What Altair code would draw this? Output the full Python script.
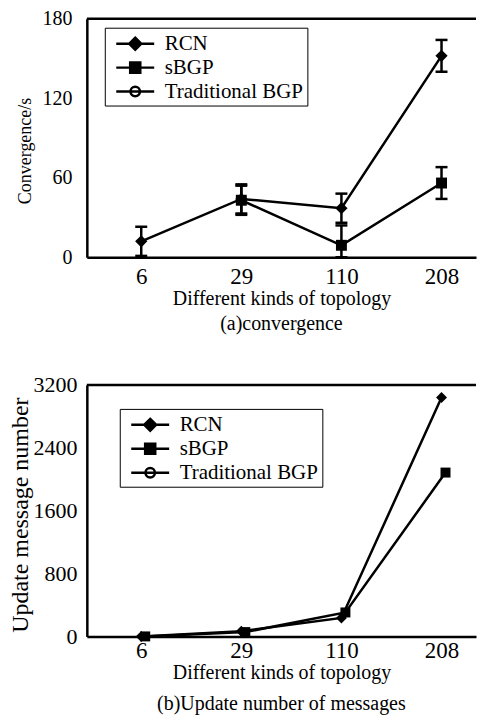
import altair as alt
import pandas as pd

TOPO = ["6", "29", "110", "208"]
SERIES = ["RCN", "sBGP", "Traditional BGP"]

# (a) convergence time (s) with error half-widths
CONV_RCN = [12, 44, 37, 152]
CONV_RCN_ERR = [11, 11, 11, 12]
CONV_SBGP = [None, 43, 9, 56]
CONV_SBGP_ERR = [None, 11, 15, 12]

# (b) update message numbers
UPD_RCN = [0, 65, 235, 3040]
UPD_SBGP = [0, 55, 305, 2085]

FONT = "Liberation Serif, Times New Roman, serif"
W = 390
H_TOP = 239
H_BOT = 252
LW = 2.5

LEGEND_PATHS = [
    "M-1.81,0L1.81,0M0,-0.57L0.57,0L0,0.57L-0.57,0Z",
    "M-1.81,0L1.81,0M-0.48,-0.48L0.48,-0.48L0.48,0.48L-0.48,0.48Z",
    "M-1.81,0L1.81,0M0.45,0A0.45,0.45 0 1,1 -0.45,0A0.45,0.45 0 1,1 0.45,0",
]
LEGEND_FILLS = ["black", "black", "white"]
LEGEND_STROKES = ["black", "black", "black"]


def long_frame(vals_by_series, errs_by_series=None):
    rows = []
    for s, vals in vals_by_series.items():
        errs = errs_by_series[s] if errs_by_series else [None] * len(vals)
        for t, v, e in zip(TOPO, vals, errs):
            if v is None:
                continue
            r = {"topology": t, "series": s, "value": v}
            if e is not None:
                r["lo"] = max(0, v - e)
                r["hi"] = v + e
            rows.append(r)
    return pd.DataFrame(rows)


df_conv = long_frame({"RCN": CONV_RCN, "sBGP": CONV_SBGP},
                     {"RCN": CONV_RCN_ERR, "sBGP": CONV_SBGP_ERR})
df_upd = long_frame({"RCN": UPD_RCN, "sBGP": UPD_SBGP})
df_leg = pd.DataFrame({"series": SERIES})
df_one = pd.DataFrame({"a": [0]})


def xenc(label_pad, title_pad, label_size):
    return alt.X(
        "topology:N", sort=TOPO,
        scale=alt.Scale(type="point", domain=TOPO, padding=0.444, align=0.612),
        axis=alt.Axis(title="Different kinds of topology", labelAngle=0,
                      ticks=False, labelPadding=label_pad, titlePadding=title_pad,
                      labelFontSize=label_size, titleFontSize=20,
                      domainColor="black", domainWidth=LW),
    )


def legend_layer(lx, ly):
    leg = alt.Legend(
        title=None, orient="none", legendX=lx, legendY=ly,
        strokeColor="black", fillColor="white", padding=4,
        symbolSize=441, symbolStrokeColor="black", symbolStrokeWidth=LW,
        symbolOpacity=1, symbolOffset=14.5, labelFont=FONT, labelFontSize=21,
        labelColor="black", labelOffset=17.5, rowPadding=1,
    )
    return alt.Chart(df_leg).mark_point(clip=True, strokeWidth=LW).encode(
        x=alt.value(-300), y=alt.value(-300),
        shape=alt.Shape("series:N", scale=alt.Scale(domain=SERIES, range=LEGEND_PATHS), legend=leg),
        fill=alt.Fill("series:N", scale=alt.Scale(domain=SERIES, range=LEGEND_FILLS), legend=leg),
        stroke=alt.Stroke("series:N", scale=alt.Scale(domain=SERIES, range=LEGEND_STROKES), legend=leg),
    )


def top_border():
    return alt.Chart(df_one).mark_rule(color="black", strokeWidth=LW).encode(
        x=alt.value(0), x2=alt.value(W), y=alt.value(0))


# ---------- (a) ----------
xa = xenc(8, 0, 23)
ya = alt.Y("value:Q", scale=alt.Scale(domain=[0, 180], nice=False),
           axis=alt.Axis(title="Convergence/s", values=[0, 60, 120, 180], ticks=False,
                         grid=False, labelPadding=15, labelFontSize=20, titleFontSize=18,
                         titlePadding=7, titleY=132, format="d",
                         domainColor="black", domainWidth=LW))
base_a = alt.Chart(df_conv)
lines_a = base_a.mark_line(color="black", strokeWidth=LW).encode(x=xa, y=ya, detail="series:N")
err_a = base_a.mark_rule(color="black", strokeWidth=LW).encode(x=xa, y="lo:Q", y2="hi:Q")
caplo_a = base_a.mark_tick(color="black", size=12, thickness=LW, opacity=1).encode(x=xa, y="lo:Q")
caphi_a = base_a.mark_tick(color="black", size=12, thickness=LW, opacity=1).encode(x=xa, y="hi:Q")
pts_a_r = base_a.transform_filter(alt.datum.series == "RCN").mark_point(
    shape="diamond", filled=True, size=150, color="black", opacity=1).encode(x=xa, y=ya)
pts_a_s = base_a.transform_filter(alt.datum.series == "sBGP").mark_point(
    shape="square", filled=True, size=120, color="black", opacity=1).encode(x=xa, y=ya)

chart_a = alt.layer(
    top_border(), lines_a, err_a, caplo_a, caphi_a, pts_a_s, pts_a_r, legend_layer(18, 9)
).resolve_scale(shape="independent", fill="independent", stroke="independent").properties(
    width=W, height=H_TOP,
    title=alt.TitleParams(text="(a)convergence", orient="bottom", fontSize=20,
                          fontWeight="normal", font=FONT, color="black", offset=6),
)

# ---------- (b) ----------
xb = xenc(3, 0, 23)
yb = alt.Y("value:Q", scale=alt.Scale(domain=[0, 3200], nice=False),
           axis=alt.Axis(title="Update message number", values=[0, 800, 1600, 2400, 3200],
                         ticks=False, grid=False, labelPadding=10, labelFontSize=22,
                         titleFontSize=24, titlePadding=0, titleY=130, format="d",
                         domainColor="black", domainWidth=LW))
base_b = alt.Chart(df_upd)
lines_b_r = base_b.transform_filter(alt.datum.series == "RCN").mark_line(
    color="black", strokeWidth=LW).encode(x=xb, y=yb)
lines_b_s = base_b.transform_filter(alt.datum.series == "sBGP").mark_line(
    color="black", strokeWidth=LW, xOffset=4).encode(x=xb, y=yb)
pts_b_r = base_b.transform_filter(alt.datum.series == "RCN").mark_point(
    shape="diamond", filled=True, size=120, color="black", opacity=1).encode(x=xb, y=yb)
pts_b_s = base_b.transform_filter(alt.datum.series == "sBGP").mark_point(
    shape="square", filled=True, size=100, color="black", opacity=1, xOffset=4).encode(x=xb, y=yb)

chart_b = alt.layer(
    top_border(), lines_b_r, lines_b_s, pts_b_s, pts_b_r, legend_layer(33, 24)
).resolve_scale(shape="independent", fill="independent", stroke="independent").properties(
    width=W, height=H_BOT,
    title=alt.TitleParams(text="(b)Update number of messages", orient="bottom", fontSize=20,
                          fontWeight="normal", font=FONT, color="black", offset=12),
)

chart = alt.vconcat(chart_a, chart_b, spacing=40).resolve_scale(
    x="independent", y="independent", shape="independent", fill="independent",
    stroke="independent"
).resolve_legend(shape="independent", fill="independent", stroke="independent").properties(
    padding={"left": 0, "top": 0, "right": 0, "bottom": 0}
).configure(font=FONT).configure_axis(
    labelFont=FONT, titleFont=FONT, labelColor="black", titleColor="black",
    titleFontWeight="normal", grid=False,
).configure_view(stroke=None)

chart.save("out.html", embed_options={"renderer": "svg", "actions": False})
